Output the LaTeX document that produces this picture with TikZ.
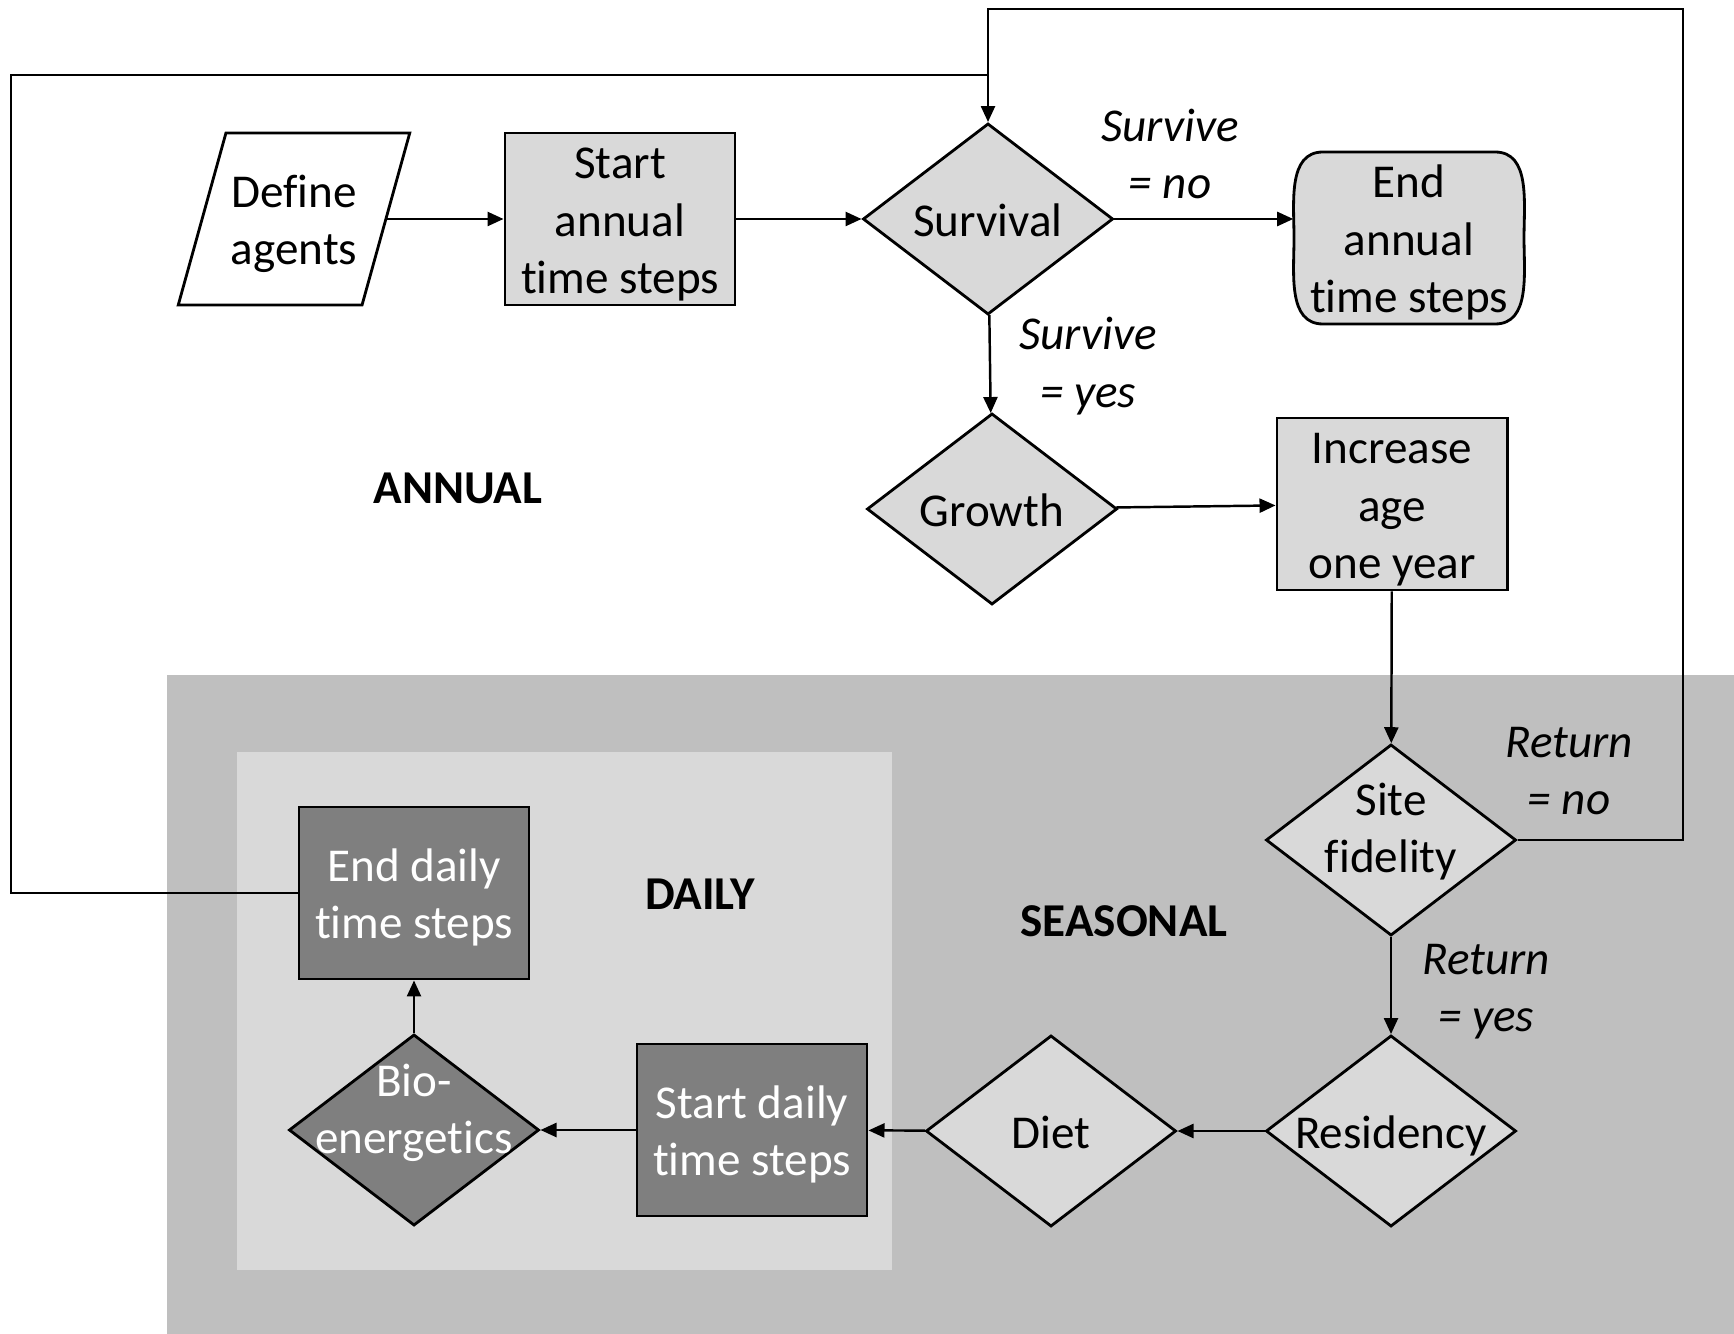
\documentclass[tikz,border=0pt]{standalone}
\usepackage{fontspec}
\setmainfont{Carlito}[Ligatures=NoCommon]
\usetikzlibrary{arrows.meta,shapes.geometric}

\definecolor{boxgray}{HTML}{D9D9D9}
\definecolor{dailyfill}{HTML}{7F7F7F}
\definecolor{seasonal}{HTML}{BFBFBF}

\newcommand{\ntext}[2][-5.2pt]{\raisebox{#1}[0pt][0pt]{\makebox[0pt]{%
  \begin{tabular}{@{}c@{}}#2\end{tabular}}}}

\begin{document}
\begin{tikzpicture}[x=0.01cm,y=-0.01cm,>={Triangle[length=0.16cm,width=0.14cm]},
  font=\fontsize{13.4}{16.3}\selectfont,
  proc/.style={draw,line width=0.8pt,fill=boxgray,minimum width=2.30cm,
    minimum height=1.72cm,inner sep=0pt},
  dproc/.style={proc,fill=dailyfill,text=white},
  decision/.style={diamond,draw,line width=0.8pt,fill=boxgray,
    minimum width=2.50cm,minimum height=1.91cm,inner sep=0pt},
  ddecision/.style={decision,fill=dailyfill,text=white},
  endbox/.style={minimum width=2.30cm,minimum height=1.72cm,inner sep=0pt},
  inbox/.style={trapezium,trapezium left angle=74.5,trapezium right angle=105.5,
    draw,line width=0.8pt,fill=white,inner xsep=0.68cm,inner ysep=0.86cm},
  cond/.style={font=\fontsize{13.4}{16.3}\selectfont\itshape,align=center},
  level/.style={font=\fontsize{13.4}{16.3}\selectfont\bfseries},
  flow/.style={->,line width=0.7pt}]

\useasboundingbox (0,0) rectangle (1734,1334);
\fill[color=seasonal] (167,675) rectangle (1734,1334);
\fill[color=boxgray] (237,752) rectangle (892,1270);

\coordinate (endC) at (1409,238);
\filldraw[fill=boxgray,line width=0.8pt]
  ([shift={(-86,-86)}]endC) -- ([shift={(86,-86)}]endC)
  to[out=0,in=90] ([shift={(115,0)}]endC)
  to[out=-90,in=0] ([shift={(86,86)}]endC) -- ([shift={(-86,86)}]endC)
  to[out=180,in=-90] ([shift={(-115,0)}]endC)
  to[out=90,in=180] cycle;

\node[inbox] (define) at (294,219) {\ntext{Define\\agents}};
\node[proc] (startA) at (620,219) {\ntext{Start\\annual\\time steps}};
\node[decision] (surv) at (988,219) {\ntext{Survival}};
\node[endbox] (endA) at (endC) {\ntext{End\\annual\\time steps}};
\node[decision] (growth) at (992,509) {\ntext{Growth}};
\node[proc] (incr) at (1392,504) {\ntext{Increase\\age\\one year}};
\node[decision] (site) at (1391,840) {\ntext[-1.4pt]{Site\\fidelity}};
\node[decision] (resid) at (1391,1131) {\ntext{Residency}};
\node[decision] (diet) at (1051,1131) {\ntext{Diet}};
\node[dproc] (startD) at (752,1130) {\ntext{Start daily\\time steps}};
\node[ddecision] (bio) at (414,1130) {\ntext[1.1pt]{Bio-\\energetics}};
\node[dproc] (endD) at (414,893) {\ntext{End daily\\time steps}};

\node[level] (annual) at (458,488) {ANNUAL};
\node[level] (daily) at (700,894) {DAILY};
\node[level] (seasonal) at (1124,921) {SEASONAL};

\node[cond] (survNo) at (1170,154) {Survive\\= no};
\node[cond] (survYes) at (1088,366) {Survive\\= yes};
\node[cond] (retNo) at (1569,771) {Return\\= no};
\node[cond] (retYes) at (1486,992) {Return\\= yes};

\coordinate (loopR) at (1683,9);
\coordinate (loopL) at (11,75);

\draw[flow] (define) -- (startA);
\draw[flow] (startA) -- (surv);
\draw[flow] (surv.east) -- (endA.west |- surv.east);
\draw[flow] (surv) -- (growth);
\draw[flow] (growth) -- (incr);
\draw[flow] (incr) -- (site);
\draw[flow] (site) -- (resid);
\draw[flow] (resid) -- (diet);
\draw[flow] (diet) -- (startD);
\draw[flow] (startD) -- (bio);
\draw[flow] (bio) -- (endD);
\draw[flow] (site.east) -| (loopR) -- (loopR -| surv.north) -- (surv.north);
\draw[line width=0.7pt] (endD.west) -| (loopL) -- (loopL -| surv.north);

\end{tikzpicture}
\end{document}
